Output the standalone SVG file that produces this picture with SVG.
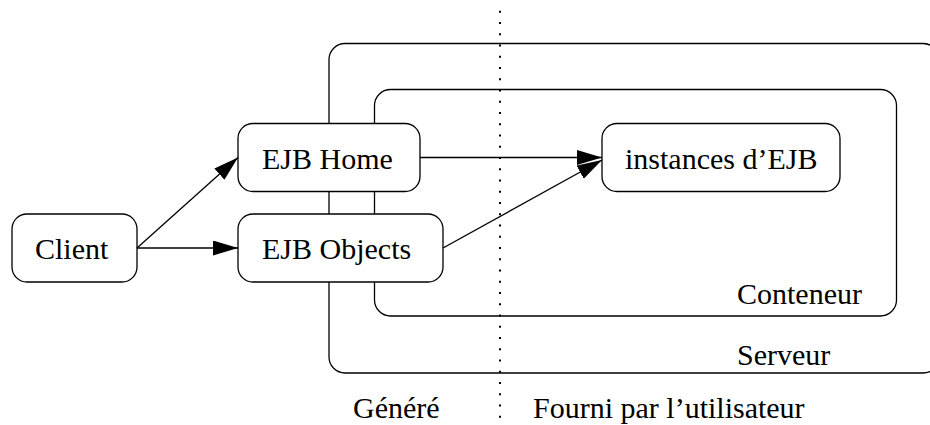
<svg xmlns="http://www.w3.org/2000/svg" width="930" height="425" viewBox="0 0 930 425">
<style>
  .box{fill:none;stroke:#000;stroke-width:1.3}
  .node{fill:#fff;stroke:#000;stroke-width:1.3}
  .lbl{font-family:"Liberation Serif","Times New Roman",serif;font-size:30px;fill:#000}
  .edge{fill:none;stroke:#000;stroke-width:1.3}
  .sep{fill:none;stroke:#000;stroke-width:2;stroke-dasharray:2 9.25}
</style>
<defs>
  <marker id="ah" markerUnits="userSpaceOnUse" markerWidth="26" markerHeight="16" viewBox="0 0 26 16" refX="25" refY="7.5" orient="auto">
    <path d="M0,0 L25,7.5 L0,15 z" fill="#000"/>
  </marker>
</defs>
<rect width="930" height="425" fill="#fff"/>
<g id="serveur">
  <rect class="box" x="329" y="43.5" width="610" height="329.5" rx="16"/>
  <text class="lbl" x="737" y="365">Serveur</text>
</g>
<g id="conteneur">
  <rect class="box" x="374.5" y="89.5" width="522" height="226.5" rx="16"/>
  <text class="lbl" x="737" y="304">Conteneur</text>
</g>
<g id="separateur">
  <line class="sep" x1="500" y1="10.7" x2="500" y2="420"/>
  <text class="lbl" x="353" y="418">Généré</text>
  <text class="lbl" x="533" y="418">Fourni par l’utilisateur</text>
</g>
<g id="client">
  <rect class="node" x="12" y="214" width="125" height="68" rx="15"/>
  <text class="lbl" x="35" y="259">Client</text>
</g>
<g id="ejb-home">
  <rect class="node" x="238" y="123.5" width="182" height="68" rx="15"/>
  <text class="lbl" x="262" y="169">EJB Home</text>
</g>
<g id="ejb-objects">
  <rect class="node" x="238" y="214" width="205" height="68" rx="15"/>
  <text class="lbl" x="262" y="259">EJB Objects</text>
</g>
<g id="instances">
  <rect class="node" x="602" y="123.5" width="238" height="68" rx="15"/>
  <text class="lbl" x="625" y="169">instances d’EJB</text>
</g>
<g id="connectors">
  <line class="edge" x1="137" y1="248" x2="238" y2="157.5" marker-end="url(#ah)"/>
  <line class="edge" x1="137" y1="248" x2="238" y2="248" marker-end="url(#ah)"/>
  <line class="edge" x1="420" y1="157.5" x2="602" y2="157.5" marker-end="url(#ah)"/>
  <line class="edge" x1="443" y1="248" x2="602" y2="160" marker-end="url(#ah)"/>
</g>
</svg>
